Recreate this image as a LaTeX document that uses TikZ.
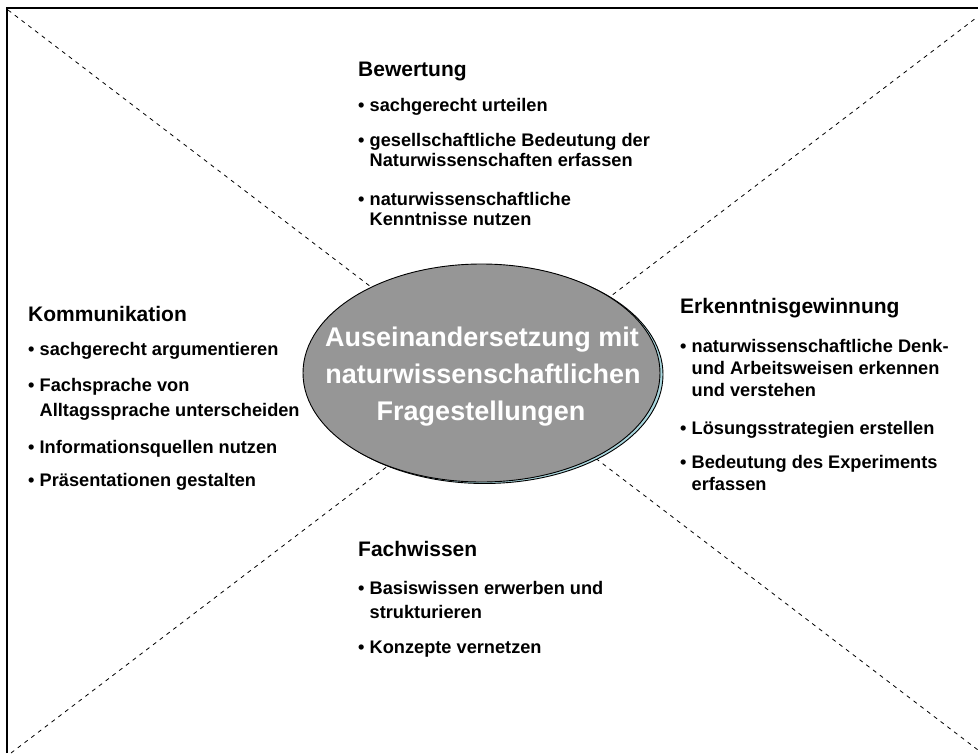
\documentclass[tikz,border=0pt]{standalone}
\usepackage{fontspec}
\setmainfont{Liberation Sans}
\usetikzlibrary{shapes.geometric}
\definecolor{coregray}{RGB}{150,150,150}
\definecolor{rimcyan}{RGB}{170,215,222}
\newcommand{\bul}{\makebox[11.5pt][l]{\textbullet}}
\newcommand{\ind}{\hspace*{11.5pt}}
\begin{document}
\begin{tikzpicture}[x=1pt,y=-1pt,
  head/.style={anchor=base west, inner sep=0pt, font=\fontsize{21}{25}\selectfont\bfseries},
  itemline/.style={anchor=base west, inner sep=0pt, font=\fontsize{18.2}{22}\selectfont\bfseries},
  coreline/.style={anchor=base, inner sep=0pt, text=white, font=\fontsize{27}{33}\selectfont\bfseries},
  frameline/.style={line width=1.5pt},
  diag/.style={line width=0.8pt, dash pattern=on 4pt off 4.5pt},
  core/.style={ellipse, draw=black, line width=0.9pt, fill=coregray, inner sep=0pt,
    minimum width=357pt, minimum height=218pt},
  coreshadow/.style={ellipse, draw=black, line width=0.9pt, fill=rimcyan, inner sep=0pt,
    minimum width=357pt, minimum height=218pt}]
\useasboundingbox (0,0) rectangle (978,753);

% frame: top and left edges
\coordinate (fbl) at (7,753);
\coordinate (ftl) at (7,8);
\coordinate (ftr) at (978,8);
\draw[frameline] (fbl) -- (ftl) -- (ftr);

% diagonals
\coordinate (dtl) at (8,10);
\coordinate (dbr) at (978,750);
\coordinate (dbl) at (11,753);
\coordinate (dtr) at (976,18);
\draw[diag] (dtl) -- (dbr);
\draw[diag] (dbl) -- (dtr);

% central ellipse with offset rim
\node[coreshadow] (rim) at (484.5,374.5) {};
\node[core] (core) at (481.5,373) {};
\node[coreline] (c1) at (482,346.7) {Auseinandersetzung mit};
\node[coreline] (c2) at (483,383.3) {naturwissenschaftlichen};
\node[coreline] (c3) at (481,420) {Fragestellungen};

% Bewertung (top)
\node[head] (bw0) at (358,76) {Bewertung};
\node[itemline] (bw1) at (358,111.7) {\bul sachgerecht urteilen};
\node[itemline] (bw2) at (358,146.7) {\bul gesellschaftliche Bedeutung der};
\node[itemline] (bw3) at (358,166.7) {\ind Naturwissenschaften erfassen};
\node[itemline] (bw4) at (358,205) {\bul naturwissenschaftliche};
\node[itemline] (bw5) at (358,225) {\ind Kenntnisse nutzen};

% Kommunikation (left)
\node[head] (km0) at (28,321.7) {Kommunikation};
\node[itemline] (km1) at (28,355.7) {\bul sachgerecht argumentieren};
\node[itemline] (km2) at (28,391.7) {\bul Fachsprache von};
\node[itemline] (km3) at (28,416) {\ind Alltagssprache unterscheiden};
\node[itemline] (km4) at (28,453.3) {\bul Informationsquellen nutzen};
\node[itemline] (km5) at (28,486.7) {\bul Präsentationen gestalten};

% Erkenntnisgewinnung (right)
\node[head] (eg0) at (680,313.3) {Erkenntnisgewinnung};
\node[itemline] (eg1) at (680,352.7) {\bul naturwissenschaftliche Denk-};
\node[itemline] (eg2) at (680,374) {\ind und Arbeitsweisen erkennen};
\node[itemline] (eg3) at (680,396) {\ind und verstehen};
\node[itemline] (eg4) at (680,434) {\bul Lösungsstrategien erstellen};
\node[itemline] (eg5) at (680,468.3) {\bul Bedeutung des Experiments};
\node[itemline] (eg6) at (680,490.7) {\ind erfassen};

% Fachwissen (bottom)
\node[head] (fw0) at (358,556.7) {Fachwissen};
\node[itemline] (fw1) at (358,594) {\bul Basiswissen erwerben und};
\node[itemline] (fw2) at (358,618.3) {\ind strukturieren};
\node[itemline] (fw3) at (358,653.3) {\bul Konzepte vernetzen};
\end{tikzpicture}
\end{document}
